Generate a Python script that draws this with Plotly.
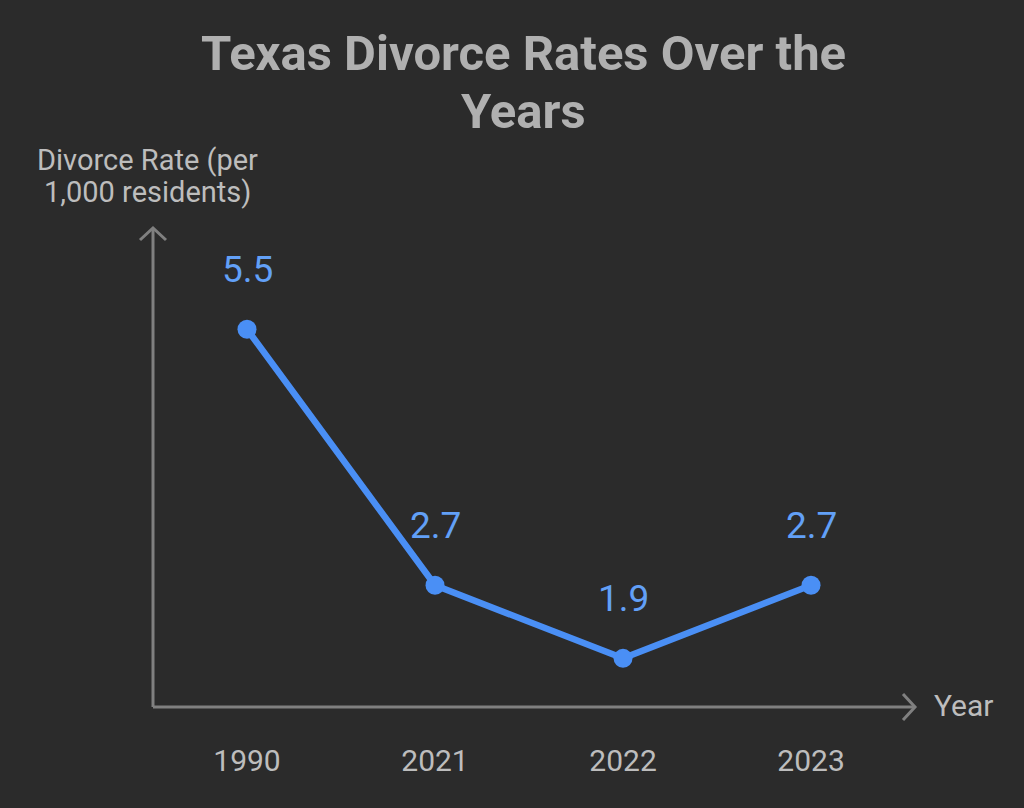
import plotly.graph_objects as go

years = ["1990", "2021", "2022", "2023"]
rates = [5.5, 2.7, 1.9, 2.7]
title_lines = ["Texas Divorce Rates Over the", "Years"]
y_title_lines = ["Divorce Rate (per", "1,000 residents)"]
x_title = "Year"

BG = "#2b2b2b"
AXIS = "#808080"
TXT = "#bdbdbd"
LINE = "#4a8ff5"
LBL = "#62a0f7"

W, H = 1024, 808
L, R, T, B = 153, 915, 228, 707

def px(x):
    return (x - L) / (R - L)

def py(y):
    return (B - y) / (B - T)

idx = list(range(len(years)))

fig = go.Figure()
fig.add_trace(go.Scatter(
    x=idx, y=rates, mode="lines+markers",
    line=dict(color=LINE, width=6.5),
    marker=dict(color=LINE, size=19),
    hoverinfo="skip", showlegend=False,
))

for i, v in zip(idx, rates):
    fig.add_annotation(x=i, y=v, text=f"{v}", showarrow=False, yshift=60,
                       font=dict(family="Roboto", size=37, color=LBL),
                       xanchor="center", yanchor="middle")

shapes = [
    dict(type="line", xref="paper", yref="paper", x0=px(L), y0=py(B), x1=px(R), y1=py(B),
         line=dict(color=AXIS, width=3)),
    dict(type="line", xref="paper", yref="paper", x0=px(L), y0=py(B), x1=px(L), y1=py(T),
         line=dict(color=AXIS, width=3)),
    dict(type="path", xref="paper", yref="paper",
         path=f"M {px(R-12)} {py(B-13)} L {px(R)} {py(B)} L {px(R-12)} {py(B+13)}",
         line=dict(color=AXIS, width=3)),
    dict(type="path", xref="paper", yref="paper",
         path=f"M {px(L-13)} {py(T+12)} L {px(L)} {py(T)} L {px(L+13)} {py(T+12)}",
         line=dict(color=AXIS, width=3)),
]

fig.add_annotation(xref="paper", yref="paper", x=px(932), y=py(705), text=x_title,
                   showarrow=False, xanchor="left", yanchor="middle",
                   font=dict(family="Roboto", size=30, color=TXT))
for yy, line in zip([160, 192], y_title_lines):
    fig.add_annotation(xref="paper", yref="paper", x=px(147), y=py(yy), text=line,
                       showarrow=False, xanchor="center", yanchor="middle",
                       font=dict(family="Roboto", size=29, color=TXT))
for yy, line in zip([53, 112], title_lines):
    fig.add_annotation(xref="paper", yref="paper", x=px(523), y=py(yy), text=f"<b>{line}</b>",
                       showarrow=False, xanchor="center", yanchor="middle",
                       font=dict(family="Roboto", size=49, color="#b0b0b0"))

fig.update_layout(
    width=W, height=H,
    paper_bgcolor=BG, plot_bgcolor=BG,
    margin=dict(l=L, r=W - R, t=T, b=H - B),
    shapes=shapes,
    xaxis=dict(range=[-0.5, 3.553], tickvals=idx, ticktext=years,
               showgrid=False, zeroline=False, showline=False, ticks="",
               ticklabelstandoff=33,
               tickfont=dict(family="Roboto", size=30, color=TXT), fixedrange=True),
    yaxis=dict(range=[1.368, 6.608], showgrid=False, zeroline=False, showline=False,
               showticklabels=False, ticks="", fixedrange=True),
)

fig.write_html("out.html")
